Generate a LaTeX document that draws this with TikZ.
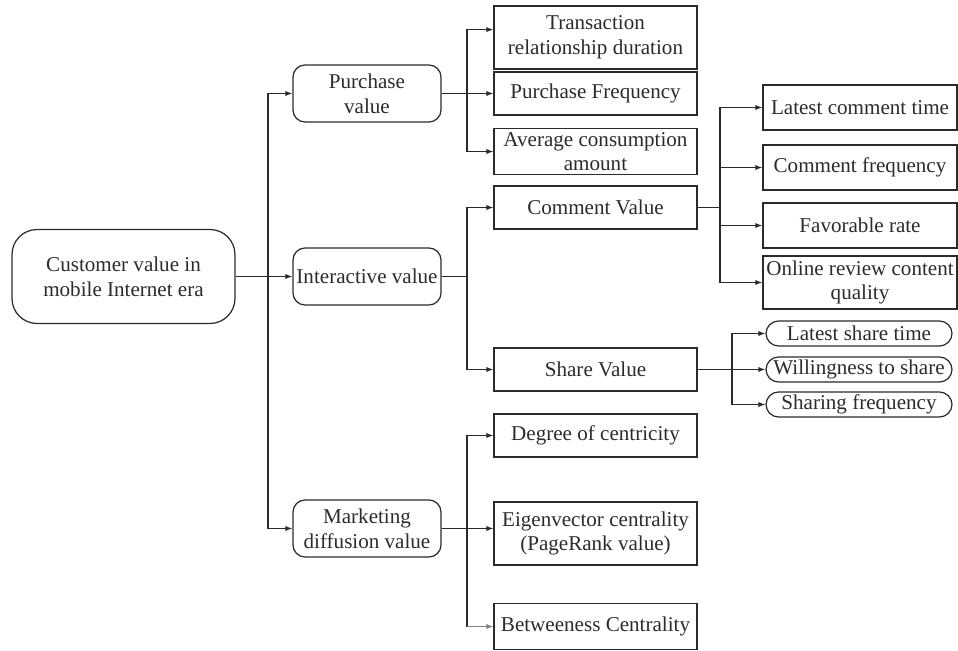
\documentclass[tikz,border=0pt]{standalone}
\usepackage{fontspec}
\setmainfont{Liberation Serif}
\usetikzlibrary{arrows.meta}
\definecolor{ink}{HTML}{2B2B2B}
\begin{document}
\begin{tikzpicture}[x=0.02cm,y=-0.02cm,font=\fontsize{12}{14}\selectfont,
	box/.style={draw=ink,text=ink,line width=0.7pt,align=center,inner sep=1pt,minimum width=4.06cm},
	rbox/.style={box,rounded corners=0.24cm,minimum width=2.96cm,minimum height=1.14cm},
	leaf/.style={box,minimum width=3.88cm},
	pill/.style={box,rounded corners=0.25cm,minimum width=3.72cm,minimum height=0.5cm},
	lnk/.style={draw=ink,line width=0.7pt},
	arr/.style={lnk,-{Latex[length=4pt,width=3pt]}}]
	\useasboundingbox (0,0) rectangle (958,650);
	\node[box,rounded corners=0.5cm,minimum width=4.46cm,minimum height=1.88cm] (root) at (123.5,276.5) {Customer value in\\mobile Internet era};
	\node[rbox] (pv) at (367,93.5) {Purchase\\value};
	\node[rbox] (iv) at (367,276.5) {Interactive value};
	\node[rbox] (mv) at (367,528.5) {Marketing\\diffusion value};
	\node[box,minimum height=1.26cm] (tr) at (595.5,37.5) {Transaction\\relationship duration};
	\node[box,minimum height=0.86cm] (pf) at (595.5,93.5) {Purchase Frequency};
	\node[box,minimum height=0.92cm] (ac) at (595.5,151.5) {Average consumption\\amount};
	\node[box,minimum height=0.86cm] (cv) at (595.5,207.5) {Comment Value};
	\node[box,minimum height=0.86cm] (sv) at (595.5,369.5) {Share Value};
	\node[box,minimum height=0.86cm] (dc) at (595.5,435.5) {Degree of centricity};
	\node[box,minimum height=1.26cm] (ev) at (595.5,533.5) {Eigenvector centrality\\(PageRank value)};
	\node[box,minimum height=0.92cm] (bc) at (595.5,626.5) {Betweeness Centrality};
	\node[leaf,minimum height=0.9cm] (lct) at (860,107.5) {Latest comment time};
	\node[leaf,minimum height=0.9cm] (cf) at (860,167.5) {Comment frequency};
	\node[leaf,minimum height=0.9cm] (fr) at (860,225.5) {Favorable rate};
	\node[leaf,minimum height=1.06cm] (orc) at (860,282.5) {Online review content\\quality};
	\node[pill] (lst) at (859,333.5) {Latest share time};
	\node[pill] (wts) at (859,369.5) {Willingness to share};
	\node[pill] (sf) at (859,404.5) {Sharing frequency};

	\coordinate (j1) at (268,276.5);
	\coordinate (j2) at (467,93.5);
	\coordinate (j3) at (467,276.5);
	\coordinate (j4) at (467,528.5);
	\coordinate (j5) at (720,207.5);
	\coordinate (j6) at (732,369.5);

	\draw[arr] (root.east) -- (iv.west);
	\draw[arr] (j1) |- (pv);
	\draw[arr] (j1) |- (mv);

	\draw[lnk] (pv.east) -- (j2);
	\draw[arr] (j2) |- ([yshift=4.5pt]tr.west);
	\draw[arr] (j2) -- (pf);
	\draw[arr] (j2) |- (ac);

	\draw[lnk] (iv.east) -- (j3);
	\draw[arr] (j3) |- (cv);
	\draw[arr] (j3) |- (sv);

	\draw[lnk] (mv.east) -- (j4);
	\draw[arr] (j4) |- (dc);
	\draw[arr] (j4) -- (ev.west |- j4);
	\draw[lnk] (j4) -- (j4 |- bc);
	\draw[arr,draw=gray] (j4 |- bc) -- (bc);

	\draw[lnk] (cv.east) -- (j5);
	\foreach \n in {lct,cf,fr,orc}
		\draw[arr] (j5) |- (\n);

	\draw[lnk] (sv.east) -- (j6);
	\foreach \n in {lst,wts,sf}
		\draw[arr] (j6) |- (\n);
\end{tikzpicture}
\end{document}
